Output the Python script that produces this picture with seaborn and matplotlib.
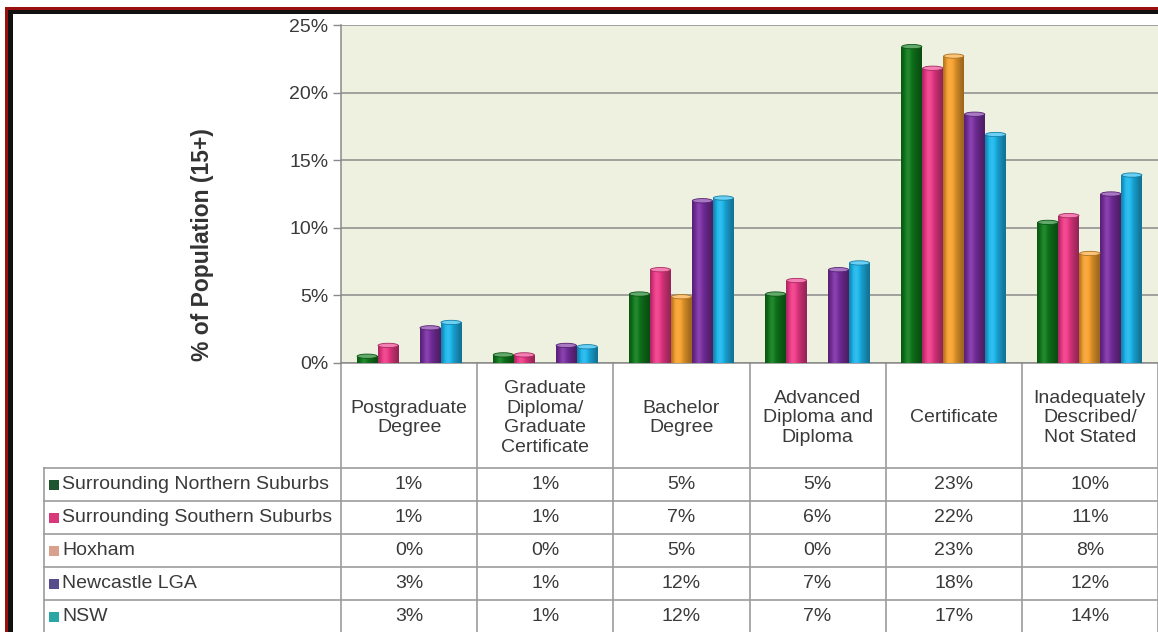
import numpy as np
import pandas as pd
import matplotlib
matplotlib.use("Agg")
import matplotlib.pyplot as plt
import matplotlib.colors as mcolors
from matplotlib.patches import Rectangle, Ellipse
from matplotlib.transforms import blended_transform_factory
import seaborn as sns

# ---------------- data ----------------
categories = ["Postgraduate\nDegree",
              "Graduate\nDiploma/\nGraduate\nCertificate",
              "Bachelor\nDegree",
              "Advanced\nDiploma and\nDiploma",
              "Certificate",
              "Inadequately\nDescribed/\nNot Stated"]
series_names = ["Surrounding Northern Suburbs", "Surrounding Southern Suburbs",
                "Hoxham", "Newcastle LGA", "NSW"]
northern = [0.5, 0.6, 5.1, 5.1, 23.4, 10.4]
southern = [1.3, 0.6, 6.9, 6.1, 21.8, 10.9]
hoxham = [0.0, 0.0, 4.9, 0.0, 22.7, 8.1]
newcastle = [2.6, 1.3, 12.0, 6.9, 18.4, 12.5]
nsw = [3.0, 1.2, 12.2, 7.4, 16.9, 13.9]

table_northern = ["1%", "1%", "5%", "5%", "23%", "10%"]
table_southern = ["1%", "1%", "7%", "6%", "22%", "11%"]
table_hoxham = ["0%", "0%", "5%", "0%", "23%", "8%"]
table_newcastle = ["3%", "1%", "12%", "7%", "18%", "12%"]
table_nsw = ["3%", "1%", "12%", "7%", "17%", "14%"]

y_ticks = [0, 5, 10, 15, 20, 25]
y_label = "% of Population (15+)"

bar_colors = ["#0f7a1c", "#ee3a88", "#f7a22e", "#7a2fa2", "#1cb6ec"]
key_colors = ["#1e5530", "#d8397a", "#d9a08e", "#574d8c", "#2aa7a5"]

# ---------------- figure ----------------
W, H = 1158, 632
fig = plt.figure(figsize=(W / 100, H / 100), dpi=100)
fig.patch.set_facecolor("white")
plt.rcParams["font.family"] = ["Liberation Sans", "DejaVu Sans"]
txt_color = "#3a3a3a"
fs = 14

x0, x1 = 341, 1158
y_top, y_base = 25, 363
ax = fig.add_axes([x0 / W, 1 - y_base / H, (x1 - x0) / W, (y_base - y_top) / H])
ax.set_facecolor("#eef0e0")

values = [northern, southern, hoxham, newcastle, nsw]
rows = []
for name, vals in zip(series_names, values):
    for cat, v in zip(categories, vals):
        rows.append({"category": cat, "series": name, "value": v})
df = pd.DataFrame(rows)

sns.barplot(data=df, x="category", y="value", hue="series", order=categories,
            hue_order=series_names, palette=bar_colors, saturation=1,
            width=0.77, errorbar=None, legend=False, ax=ax, zorder=3)

# cylinder-like shading on each bar
t = np.linspace(0, 1, 64)
prof = 0.62 + 0.5 * np.exp(-((t - 0.33) / 0.25) ** 2) + 0.12 * np.exp(-((t - 0.7) / 0.2) ** 2)
cap_h = 0.32  # cap height in data units (~4 px)
for patch in list(ax.patches):
    h = patch.get_height()
    if h <= 0:
        patch.set_visible(False)
        continue
    rgb = np.array(mcolors.to_rgb(patch.get_facecolor()))
    cols = []
    for f in prof:
        if f <= 1:
            cols.append(rgb * f)
        else:
            cols.append(rgb + (1 - rgb) * min(f - 1, 1) * 0.8)
    img = np.clip(np.array(cols), 0, 1)[None, :, :]
    x, w = patch.get_x(), patch.get_width()
    im = ax.imshow(img, extent=[x, x + w, 0, h], aspect="auto", zorder=4,
                   interpolation="bilinear")
    im.set_clip_path(patch)
    cap_col = rgb + (1 - rgb) * 0.35
    ax.add_patch(Ellipse((x + w / 2, h), w * 0.96, cap_h, facecolor=cap_col,
                         edgecolor=rgb * 0.7, lw=0.6, zorder=5))

ax.set_xlim(-0.5, len(categories) - 0.5)
ax.set_ylim(0, 25)
ax.set_yticks(y_ticks)
ax.set_yticklabels([f"{v}%" for v in y_ticks], fontsize=fs, color=txt_color)
ax.set_xticks([])
ax.set_xlabel("")
ax.set_ylabel("")
ax.yaxis.grid(True, color="#8a8a8a", linewidth=1.1)
ax.set_axisbelow(True)
ax.tick_params(axis="y", direction="out", length=6, width=1, color="#8a8a8a", pad=3)
for s in ["top", "right"]:
    ax.spines[s].set_visible(False)
for s in ["left", "bottom"]:
    ax.spines[s].set_color("#8a8a8a")
    ax.spines[s].set_linewidth(1.1)

fig.text(203 / W, 1 - 245 / H, y_label, rotation=90, ha="center", va="center",
         fontsize=16.5, fontweight="bold", color="#333333")

# ---------------- data table ----------------
tax = fig.add_axes([0, 0, 1, 1], zorder=-1)
tax.set_xlim(0, W)
tax.set_ylim(H, 0)
tax.axis("off")
bt = blended_transform_factory(ax.transData, tax.transData)
line_c = "#9c9c9c"
header_bottom = 468
row_h = 33
n_rows = len(series_names)
table_bottom = header_bottom + row_h * n_rows

ncat = len(categories)
for i in range(ncat + 1):
    tax.plot([i - 0.5, i - 0.5], [y_base, table_bottom], color=line_c, lw=1.2, transform=bt)
tax.plot([44, 44], [header_bottom, table_bottom], color=line_c, lw=1.2)
for r in range(n_rows + 1):
    yy = header_bottom + r * row_h
    tax.plot([44, W], [yy, yy], color=line_c, lw=1.2)

for i, cat in enumerate(categories):
    tax.text(i, 418, cat, transform=bt, ha="center", va="center", fontsize=fs,
             color=txt_color, linespacing=1.22)

tables = [table_northern, table_southern, table_hoxham, table_newcastle, table_nsw]
for r, (name, kc, labels) in enumerate(zip(series_names, key_colors, tables)):
    yc = header_bottom + r * row_h + row_h / 2
    tax.add_patch(Rectangle((49, yc - 5), 10, 10, facecolor=kc, edgecolor="none"))
    tax.text(62, yc, name, ha="left", va="center", fontsize=fs, color=txt_color)
    for i, lab in enumerate(labels):
        tax.text(i, yc, lab, transform=bt, ha="center", va="center",
                 fontsize=fs, color=txt_color)

# ---------------- frame border ----------------
tax.add_patch(Rectangle((5, 7), W, 2.5, facecolor="#9a1010", edgecolor="none"))
tax.add_patch(Rectangle((5, 7), 2.5, H, facecolor="#9a1010", edgecolor="none"))
tax.add_patch(Rectangle((7.5, 9.5), W, 4, facecolor="#111111", edgecolor="none"))
tax.add_patch(Rectangle((7.5, 9.5), 5.5, H, facecolor="#111111", edgecolor="none"))

fig.savefig("out.png", dpi=100)
